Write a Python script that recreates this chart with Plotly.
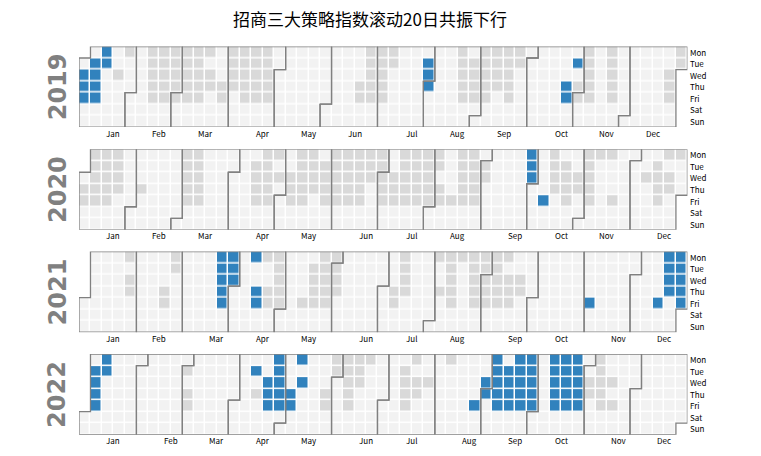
import math
import calendar
import datetime as dt
import numpy as np
import plotly.graph_objects as go

TITLE = "招商三大策略指数滚动20日共振下行"
YEARS = [2019, 2020, 2021, 2022]
WEEKDAYS = ["Mon", "Tue", "Wed", "Thu", "Fri", "Sat", "Sun"]
MONTHS = ["Jan", "Feb", "Mar", "Apr", "May", "Jun",
          "Jul", "Aug", "Sep", "Oct", "Nov", "Dec"]

# Daily state, one character per calendar-week column
# of the year ('.' = no signal, 'g' = grey day, 'b' = blue / co-movement down).
grid_2019 = {
    "Mon": "..b.g.gggg gg.gggg... .....ggg.. ...g.gggg. ....g.g... ..g",
    "Tue": ".bb...gggg g..gggg... .....ggg.. b..gggggg. ...bg.g... ..g",
    "Wed": "bb.g..gggg gg.gggg... .....gg... b..ggggg.. ....g.g... .g.",
    "Thu": "bb....gggg ggggggg... ....ggg... b..ggggg.. ..bgg.g... .g.",
    "Fri": "bb....gggg g.g.ggg... ....ggg... ...ggg.g.. ..bgg.g... .g.",
}
grid_2020 = {
    "Mon": ".ggg.....g g.....gg.g g.ggggg.gg gg.gg....b .g..ggg... .gg",
    "Tue": ".ggg.....g g....gg..g ggggggg.gg gg.ggg...b .gg.g..... g..",
    "Wed": ".ggg.....g g....ggggg gggggggggg g..ggg...b .gggg....g gg.",
    "Thu": "gggg.g...g g....gg.gg ggggg.gggg gg.gg..... .gggg..... gg.",
    "Fri": "ggg......g g....gg.gg .gggg.gggg ggggg..... b.g.g.g... g..",
}
grid_2021 = {
    "Mon": "....g...g. ..bb.bgg.. .gg.....g. .ggggggg.. .......... .bb",
    "Tue": "........g. ..bb...g.. ggg.....g. ..g.ggg... .......... .bb",
    "Wed": "....g..... ..bb...g.. ggg.....g. ..g.ggggg. .......... .bb",
    "Thu": "....g..g.. ..b..bgg.. ggg....gg. .gg.ggggg. .......... .bb",
    "Fri": ".......g.. ..b..bgg.g gg.....g.. ..g.gggg.. ....b..... b.b",
}
grid_2022 = {
    "Mon": "..b....... .......b.b ..gggg...g ..g...b.bb .bbb.g.... ...",
    "Tue": ".bb......g .....b.b.. ..ggg...g. ......bbbb .bbb.g.... ...",
    "Wed": ".b........ ......bb.b ...gg...gg g....bbbbb .bbbggg... ...",
    "Thu": ".b.......g .....gbbb. .g.g....gg .....bbbbb .bbbgg.... ...",
    "Fri": ".b.......g ......bbb. .g.g....g. ....b.bbbb .bbb.gg... ...",
}
GRIDS = {2019: grid_2019, 2020: grid_2020, 2021: grid_2021, 2022: grid_2022}
CODE = {".": 0, "g": 1, "b": 2}

COLORS = ["#f2f2f2", "#d9d9d9", "#3182bd"]
EDGE = "#808080"

W, H = 761, 456
X0, X1 = 79.0, 687.4            # grid left / right edge (px)
TOPS = [46.5, 149.2, 251.6, 354.1]
PH = 80.6                       # panel height (px)
LABEL_FONT = dict(family="Noto Sans CJK SC", size=8, color="black")

fig = go.Figure()
annotations = []


def colof(d, off):
    return (d.timetuple().tm_yday - 1 + off) // 7


for i, year in enumerate(YEARS):
    n = "" if i == 0 else str(i + 1)
    xa, ya = "x" + n, "y" + n
    rows = {k: v.replace(" ", "") for k, v in GRIDS[year].items()}
    jan1 = dt.date(year, 1, 1)
    off = jan1.weekday()
    ncol = colof(dt.date(year, 12, 31), off) + 1
    z = np.full((7, ncol), np.nan)
    d = jan1
    while d.year == year:
        c, r = colof(d, off), d.weekday()
        z[r, c] = CODE[rows[WEEKDAYS[r]][c]] if r < 5 else 0
        d += dt.timedelta(days=1)

    fig.add_trace(go.Heatmap(
        z=z, x=[c + 0.5 for c in range(ncol)], y=[r + 0.5 for r in range(7)],
        zmin=0, zmax=2, showscale=False, xgap=1.5, ygap=1.5,
        colorscale=[[0, COLORS[0]], [1 / 3, COLORS[0]], [1 / 3, COLORS[1]],
                    [2 / 3, COLORS[1]], [2 / 3, COLORS[2]], [1, COLORS[2]]],
        hoverinfo="skip", xaxis=xa, yaxis=ya))

    # month outlines
    xs, ys = [], []
    for m in range(1, 13):
        first = dt.date(year, m, 1)
        last = dt.date(year, m, calendar.monthrange(year, m)[1])
        cf, rf = colof(first, off), first.weekday()
        cl, rl = colof(last, off), last.weekday()
        xs += [cf, cf + 1, cf + 1, cl + 1, cl + 1, cl, cl, cf, cf, None]
        ys += [rf, rf, 0, 0, rl + 1, rl + 1, 7, 7, rf, None]
        ncols = cl - cf + 1
        annotations.append(dict(
            x=cf + math.ceil(ncols / 2), y=7, xref=xa, yref=ya,
            text=MONTHS[m - 1], showarrow=False, yanchor="middle", yshift=-6,
            borderpad=0, font=LABEL_FONT))
    fig.add_trace(go.Scatter(
        x=xs, y=ys, mode="lines", line=dict(color=EDGE, width=1.3),
        hoverinfo="skip", showlegend=False, cliponaxis=False,
        xaxis=xa, yaxis=ya))

    for r, wd in enumerate(WEEKDAYS):
        annotations.append(dict(
            x=ncol, y=r + 0.5, xref=xa, yref=ya, text=wd, showarrow=False,
            xanchor="left", yanchor="middle", xshift=2, borderpad=0,
            font=LABEL_FONT))

    top = TOPS[i]
    dom = [1 - (top + PH) / H, 1 - top / H]
    annotations.append(dict(
        x=57.5 / W, y=(dom[0] + dom[1]) / 2, xref="paper", yref="paper",
        text="<b>%d</b>" % year, textangle=-90, showarrow=False,
        xanchor="center", yanchor="middle",
        font=dict(family="DejaVu Sans", size=24, color="#808080")))

    fig.layout["xaxis" + n] = dict(
        domain=[X0 / W, X1 / W], range=[0, 53], anchor=ya,
        showgrid=False, zeroline=False, showticklabels=False, ticks="",
        fixedrange=True)
    fig.layout["yaxis" + n] = dict(
        domain=dom, range=[7, 0], anchor=xa,
        showgrid=False, zeroline=False, showticklabels=False, ticks="",
        fixedrange=True)

fig.update_layout(
    width=W, height=H, margin=dict(l=0, r=0, t=0, b=0),
    paper_bgcolor="white", plot_bgcolor="white", showlegend=False,
    title=dict(text=TITLE, x=370 / W, xanchor="center", y=1 - 20 / H,
               yanchor="middle",
               font=dict(family="Noto Sans CJK SC", size=17, color="black")),
    annotations=annotations)

fig.write_html("out.html")
